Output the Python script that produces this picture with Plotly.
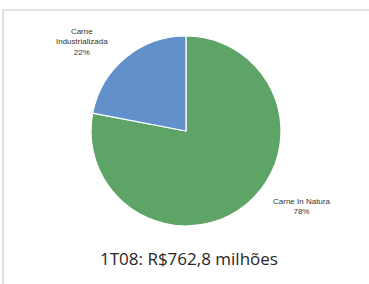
import plotly.graph_objects as go

categories = ["Carne In Natura", "Carne Industrializada"]
values = [78, 22]
colors = ["#5DA466", "#6290CB"]
title_text = "1T08: R$762,8 milhões"

W, H = 369, 284
fig = go.Figure()
fig.add_trace(go.Pie(
    labels=categories,
    values=values,
    sort=False,
    direction="clockwise",
    rotation=0,
    marker=dict(colors=colors, line=dict(color="white", width=1.2)),
    textinfo="none",
    hoverinfo="label+percent",
    showlegend=False,
    domain=dict(x=[91 / W, 281 / W], y=[55 / H, 251 / H]),
))

total = sum(values)
pcts = [round(v / total * 100) for v in values]
label_texts = [
    f"Carne In Natura<br>{pcts[0]}%",
    "Carne<br>Industrializada<br>" + f"{pcts[1]}%",
]
label_pos = [(301, 206), (82, 42)]
for txt, (px, py) in zip(label_texts, label_pos):
    fig.add_annotation(
        x=px / W, y=1 - py / H, xref="paper", yref="paper",
        text=txt, showarrow=False, xanchor="center", yanchor="middle",
        font=dict(family="Liberation Sans, Arial", size=8, color="#333333"),
        align="center",
    )

fig.add_annotation(
    x=189 / W, y=1 - 258 / H, xref="paper", yref="paper",
    text=title_text, showarrow=False, xanchor="center", yanchor="middle",
    font=dict(family="Open Sans, Noto Sans", size=17, color="#262626"),
)

fig.add_shape(
    type="rect", xref="paper", yref="paper",
    x0=3 / W, x1=1.05, y0=-0.05, y1=1 - 10 / H,
    line=dict(color="#d9d9d9", width=1.5), fillcolor="rgba(0,0,0,0)",
)

fig.update_layout(
    width=W, height=H,
    margin=dict(l=0, r=0, t=0, b=0),
    paper_bgcolor="white", plot_bgcolor="white",
)
fig.write_html(
    "out.html",
    config={"displayModeBar": False},
    post_script="document.body.style.margin='0';document.body.style.overflow='hidden';",
)
